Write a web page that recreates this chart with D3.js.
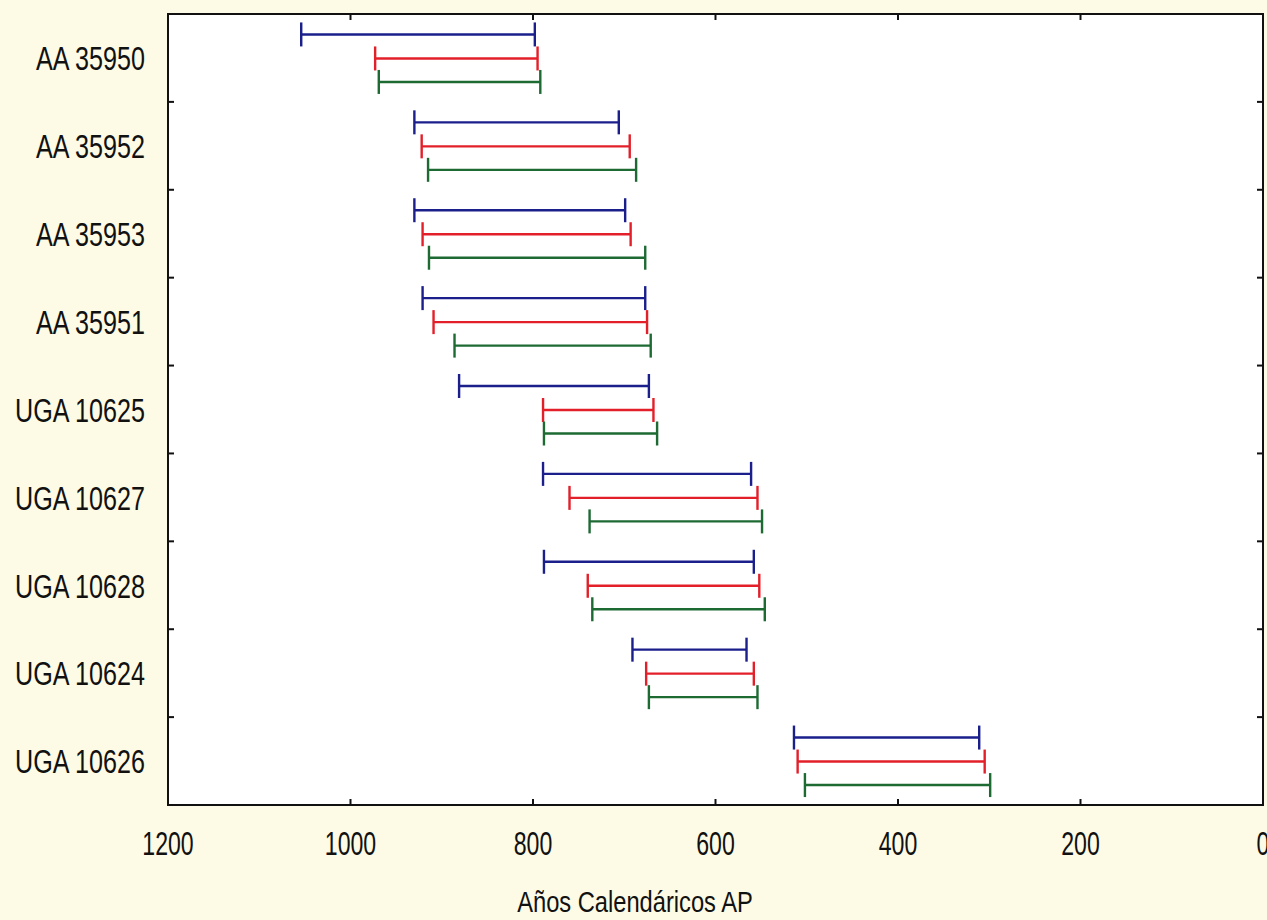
<!DOCTYPE html>
<html>
<head>
<meta charset="utf-8">
<script src="https://d3js.org/d3.v7.min.js"></script>
<style>
  body { margin: 0; background: #fdfbe6; }
  text { font-family: "Liberation Sans", Arial, sans-serif; fill: #111; }
</style>
</head>
<body>
<script>
// muestras (de arriba a abajo)
const samples = ["AA 35950", "AA 35952", "AA 35953", "AA 35951", "UGA 10625",
                 "UGA 10627", "UGA 10628", "UGA 10624", "UGA 10626"];

// rangos calibrados [desde, hasta] en años AP, una serie por color
const serieAzul = [[1054, 798], [930, 706], [930, 699], [921, 677], [881, 673],
                   [789, 561], [788, 558], [691, 566], [514, 311]];
const serieRoja = [[973, 795], [922, 694], [921, 693], [909, 675], [789, 668],
                   [760, 554], [740, 552], [676, 558], [510, 305]];
const serieVerde = [[969, 792], [915, 687], [914, 677], [886, 671], [788, 664],
                    [738, 549], [735, 546], [673, 554], [502, 299]];

const xTicks = [1200, 1000, 800, 600, 400, 200, 0];
const xTitle = "Años Calendáricos AP";

const width = 1267, height = 920;
const margin = { top: 14, right: 4, bottom: 115, left: 168 };
const innerW = width - margin.left - margin.right;
const innerH = height - margin.top - margin.bottom;

const svg = d3.select("body").append("svg")
  .attr("width", width)
  .attr("height", height);

const g = svg.append("g").attr("transform", `translate(${margin.left},${margin.top})`);

// eje x invertido: 1200 a la izquierda, 0 a la derecha
const x = d3.scaleLinear().domain([1200, 0]).range([0, innerW]);
const y = d3.scaleBand().domain(samples).range([0, innerH]);

// fondo blanco del área de trazado
g.append("rect")
  .attr("width", innerW)
  .attr("height", innerH)
  .attr("fill", "white");

const series = [
  { data: serieAzul, color: "#1a1f8c", off: -23.5 },
  { data: serieRoja, color: "#e3202a", off: 0.5 },
  { data: serieVerde, color: "#1d6a33", off: 24 }
];
const cap = 12;

series.forEach(s => {
  const rows = s.data.map((d, i) => ({ name: samples[i], a: d[0], b: d[1] }));
  const cy = d => y(d.name) + y.bandwidth() / 2 + s.off;
  const grp = g.append("g")
    .attr("stroke", s.color)
    .attr("stroke-width", 2.4)
    .attr("fill", "none");
  grp.selectAll("line.bar").data(rows).join("line")
    .attr("class", "bar")
    .attr("x1", d => x(d.a)).attr("x2", d => x(d.b))
    .attr("y1", cy).attr("y2", cy);
  grp.selectAll("line.capa").data(rows).join("line")
    .attr("class", "capa")
    .attr("x1", d => x(d.a)).attr("x2", d => x(d.a))
    .attr("y1", d => cy(d) - cap).attr("y2", d => cy(d) + cap);
  grp.selectAll("line.capb").data(rows).join("line")
    .attr("class", "capb")
    .attr("x1", d => x(d.b)).attr("x2", d => x(d.b))
    .attr("y1", d => cy(d) - cap).attr("y2", d => cy(d) + cap);
});

// marcas interiores en los cuatro lados
const inner = xTicks.slice(1, -1);
const bounds = samples.slice(1).map(s => y(s));
const ticks = g.append("g").attr("stroke", "#111").attr("stroke-width", 2);
ticks.selectAll("line.bt").data(inner).join("line")
  .attr("x1", d => x(d)).attr("x2", d => x(d))
  .attr("y1", innerH).attr("y2", innerH - 6);
ticks.selectAll("line.tt").data(inner).join("line")
  .attr("x1", d => x(d)).attr("x2", d => x(d))
  .attr("y1", 0).attr("y2", 6);
ticks.selectAll("line.lt").data(bounds).join("line")
  .attr("x1", 0).attr("x2", 6)
  .attr("y1", d => d).attr("y2", d => d);
ticks.selectAll("line.rt").data(bounds).join("line")
  .attr("x1", innerW).attr("x2", innerW - 6)
  .attr("y1", d => d).attr("y2", d => d);

// marco
g.append("rect")
  .attr("width", innerW)
  .attr("height", innerH)
  .attr("fill", "none")
  .attr("stroke", "#111")
  .attr("stroke-width", 2);

// etiquetas de muestras (letra estrecha)
g.selectAll("text.lab").data(samples).join("text")
  .attr("class", "lab")
  .attr("transform", d => `translate(-23,${y(d) + y.bandwidth() / 2}) scale(0.74,1)`)
  .attr("dy", "0.36em")
  .attr("text-anchor", "end")
  .attr("font-size", 34)
  .text(d => d);

// etiquetas del eje x
g.selectAll("text.xt").data(xTicks).join("text")
  .attr("class", "xt")
  .attr("transform", d => `translate(${x(d)},${innerH + 50}) scale(0.68,1)`)
  .attr("text-anchor", "middle")
  .attr("font-size", 34)
  .text(d => d);

svg.append("text")
  .attr("transform", "translate(635,912) scale(0.79,1)")
  .attr("text-anchor", "middle")
  .attr("font-size", 30)
  .text(xTitle);
</script>
</body>
</html>
